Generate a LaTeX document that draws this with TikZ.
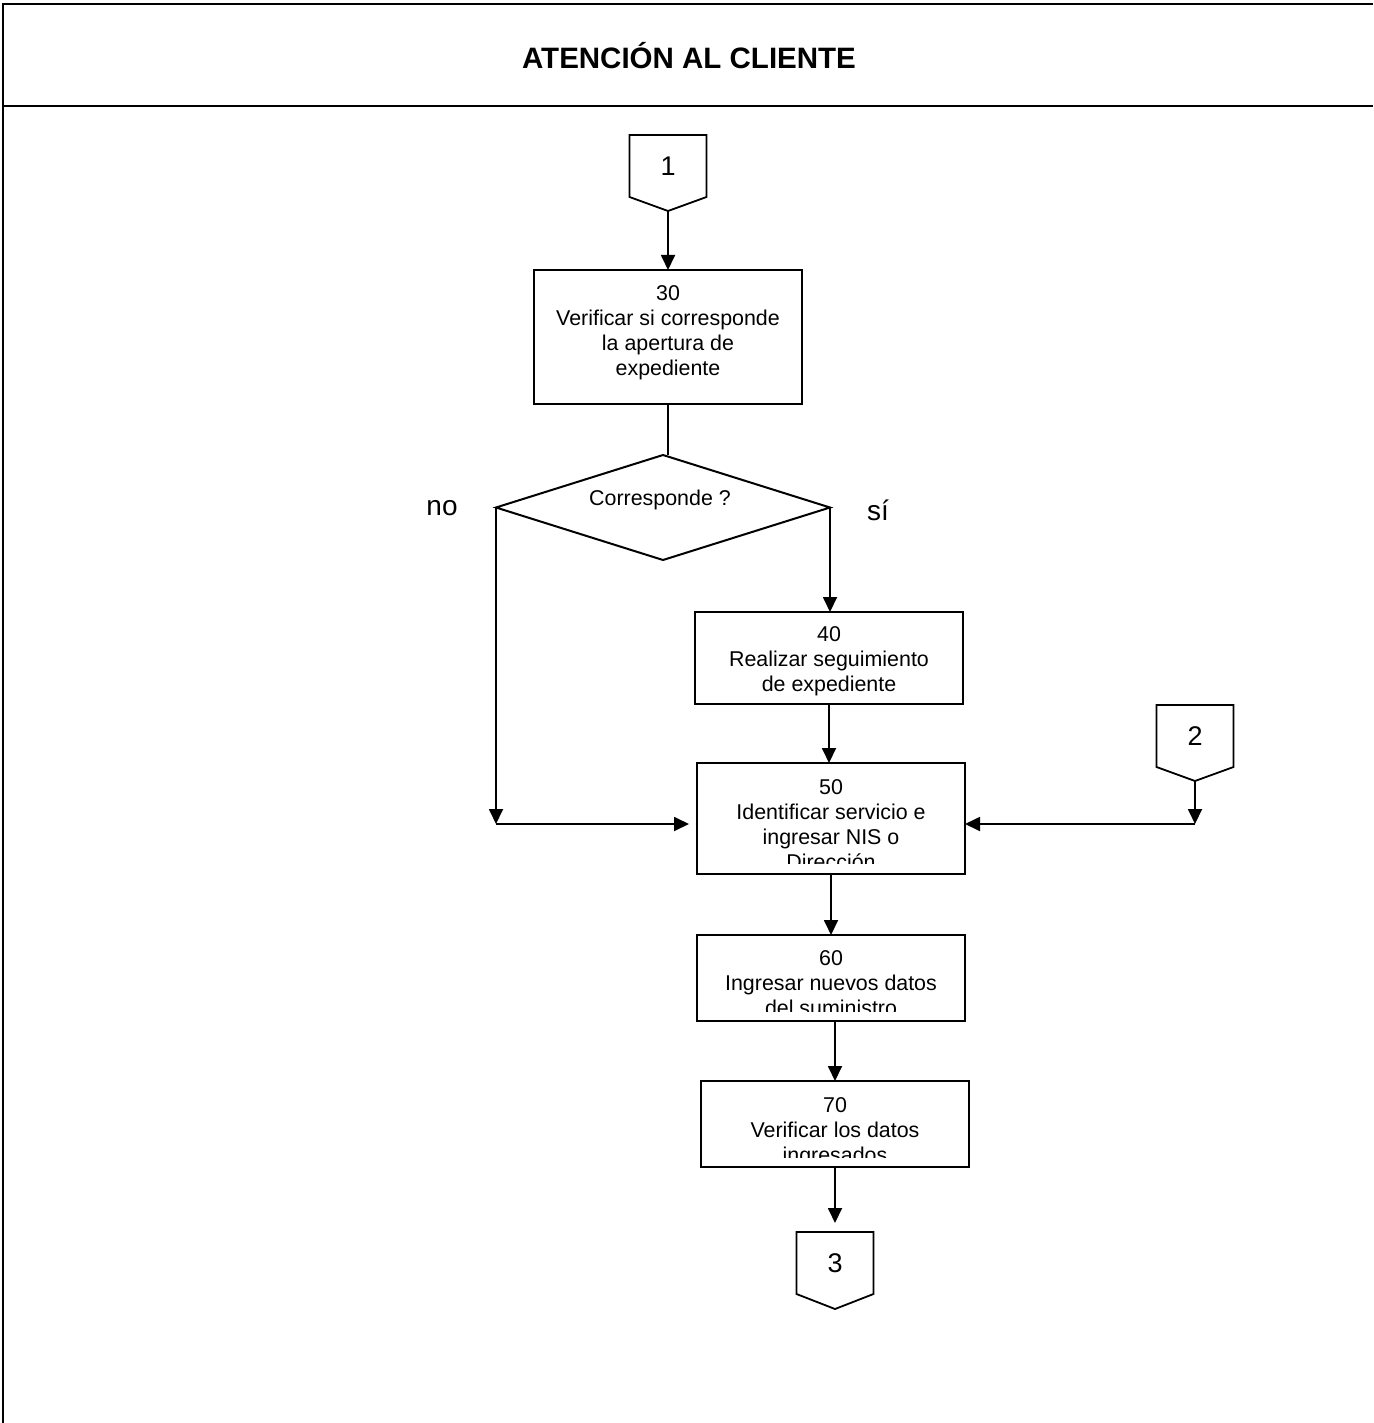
\documentclass[tikz,border=0pt]{standalone}
\usepackage{fontspec}
\setmainfont{Liberation Sans}
\usetikzlibrary{arrows.meta,shapes.geometric}
\begin{document}
\begin{tikzpicture}[x=1pt,y=-1pt,
  frame/.style={line width=2.6pt},
  procbox/.style={draw, line width=2.2pt, rectangle, inner sep=0pt, outer sep=0pt},
  boxtext/.style={inner sep=0pt, align=center, font=\fontsize{21.4}{25}\selectfont},
  conn/.style={line width=1.8pt},
  arr/.style={line width=1.8pt, -{Triangle[length=15pt,width=14pt]}},
  offpage/.style={rectangle, inner sep=0pt, outer sep=0pt, minimum width=77pt, minimum height=62pt, font=\fontsize{27}{30}\selectfont},
  branchlabel/.style={inner sep=0pt, font=\fontsize{28}{30}\selectfont},
  decision/.style={diamond, draw, line width=2pt, inner sep=0pt, outer sep=0pt, minimum width=334pt, minimum height=105pt}
]
\useasboundingbox (0,0) rectangle (1373,1423);
% frame
\draw[frame] (3,1423) -- (3,4) -- (1373,4);
\draw[frame] (3,106) -- (1373,106);
\node[inner sep=0pt, font=\fontsize{29.5}{32}\selectfont\bfseries] (title) at (689,56) {ATENCIÓN AL CLIENTE};

% off-page connectors
\node[offpage] (c1) at (668,166) {1};
\draw[conn] (c1.north west) -- (c1.north east) -- (c1.south east) -- ([yshift=-14pt]c1.south) coordinate (c1p) -- (c1.south west) -- cycle;
\node[offpage] (c2) at (1195,736) {2};
\draw[conn] (c2.north west) -- (c2.north east) -- (c2.south east) -- ([yshift=-14pt]c2.south) coordinate (c2p) -- (c2.south west) -- cycle;
\node[offpage] (c3) at (835,1263) {3};
\draw[conn] (c3.north west) -- (c3.north east) -- (c3.south east) -- ([yshift=-15pt]c3.south) coordinate (c3p) -- (c3.south west) -- cycle;

% boxes
\node[procbox, minimum width=268pt, minimum height=134pt] (b30) at (668,337) {};
\node[procbox, minimum width=268pt, minimum height=92pt] (b40) at (829,658) {};
\node[procbox, minimum width=268pt, minimum height=111pt] (b50) at (831,818.5) {};
\node[procbox, minimum width=268pt, minimum height=86pt] (b60) at (831,978) {};
\node[procbox, minimum width=268pt, minimum height=86pt] (b70) at (835,1124) {};

% box texts (clipped like the original)
\begin{scope}
\clip (b30.north west) rectangle ([yshift=10pt]b30.south east);
\node[boxtext, anchor=north] (t30) at ([yshift=-15pt]b30.north) {30\\Verificar si corresponde\\la apertura de\\expediente};
\end{scope}
\begin{scope}
\clip (b40.north west) rectangle ([yshift=8pt]b40.south east);
\node[boxtext, anchor=north] (t40) at ([yshift=-14pt]b40.north) {40\\Realizar seguimiento\\de expediente};
\end{scope}
\begin{scope}
\clip (b50.north west) rectangle ([yshift=11pt]b50.south east);
\node[boxtext, anchor=north] (t50) at ([yshift=-16pt]b50.north) {50\\Identificar servicio e\\ingresar NIS o\\Dirección};
\end{scope}
\begin{scope}
\clip (b60.north west) rectangle ([yshift=10pt]b60.south east);
\node[boxtext, anchor=north] (t60) at ([yshift=-15pt]b60.north) {60\\Ingresar nuevos datos\\del suministro};
\end{scope}
\begin{scope}
\clip (b70.north west) rectangle ([yshift=10pt]b70.south east);
\node[boxtext, anchor=north] (t70) at ([yshift=-16pt]b70.north) {70\\Verificar los datos\\ingresados};
\end{scope}

% decision
\node[decision] (dec) at (663,507.5) {};
\node[boxtext] (dectext) at (660,500) {Corresponde ?};
\node[branchlabel] (no) at (442,508) {no};
\node[branchlabel] (si) at (878,510) {sí};

% junction points
\coordinate (lj) at (496,824);
\coordinate (rj) at (1195,824);

% connectors
\draw[arr] (c1p) -- (b30.north);
\draw[conn] (b30.south) -- (b30.south |- dec.north);
\draw[arr] (dec.west) -- (lj);
\draw[arr, shorten >=8pt] (lj) -- (lj -| b50.west);
\draw[arr] (dec.east) -- (dec.east |- b40.north);
\draw[arr] (b40.south) -- (b40.south |- b50.north);
\draw[arr] (c2p) -- (rj);
\draw[arr] (rj) -- (rj -| b50.east);
\draw[arr] (b50.south) -- (b50.south |- b60.north);
\draw[arr] (b70.north |- b60.south) -- (b70.north);
\draw[arr, shorten >=9pt] (b70.south) -- (b70.south |- c3.north);
\end{tikzpicture}
\end{document}
